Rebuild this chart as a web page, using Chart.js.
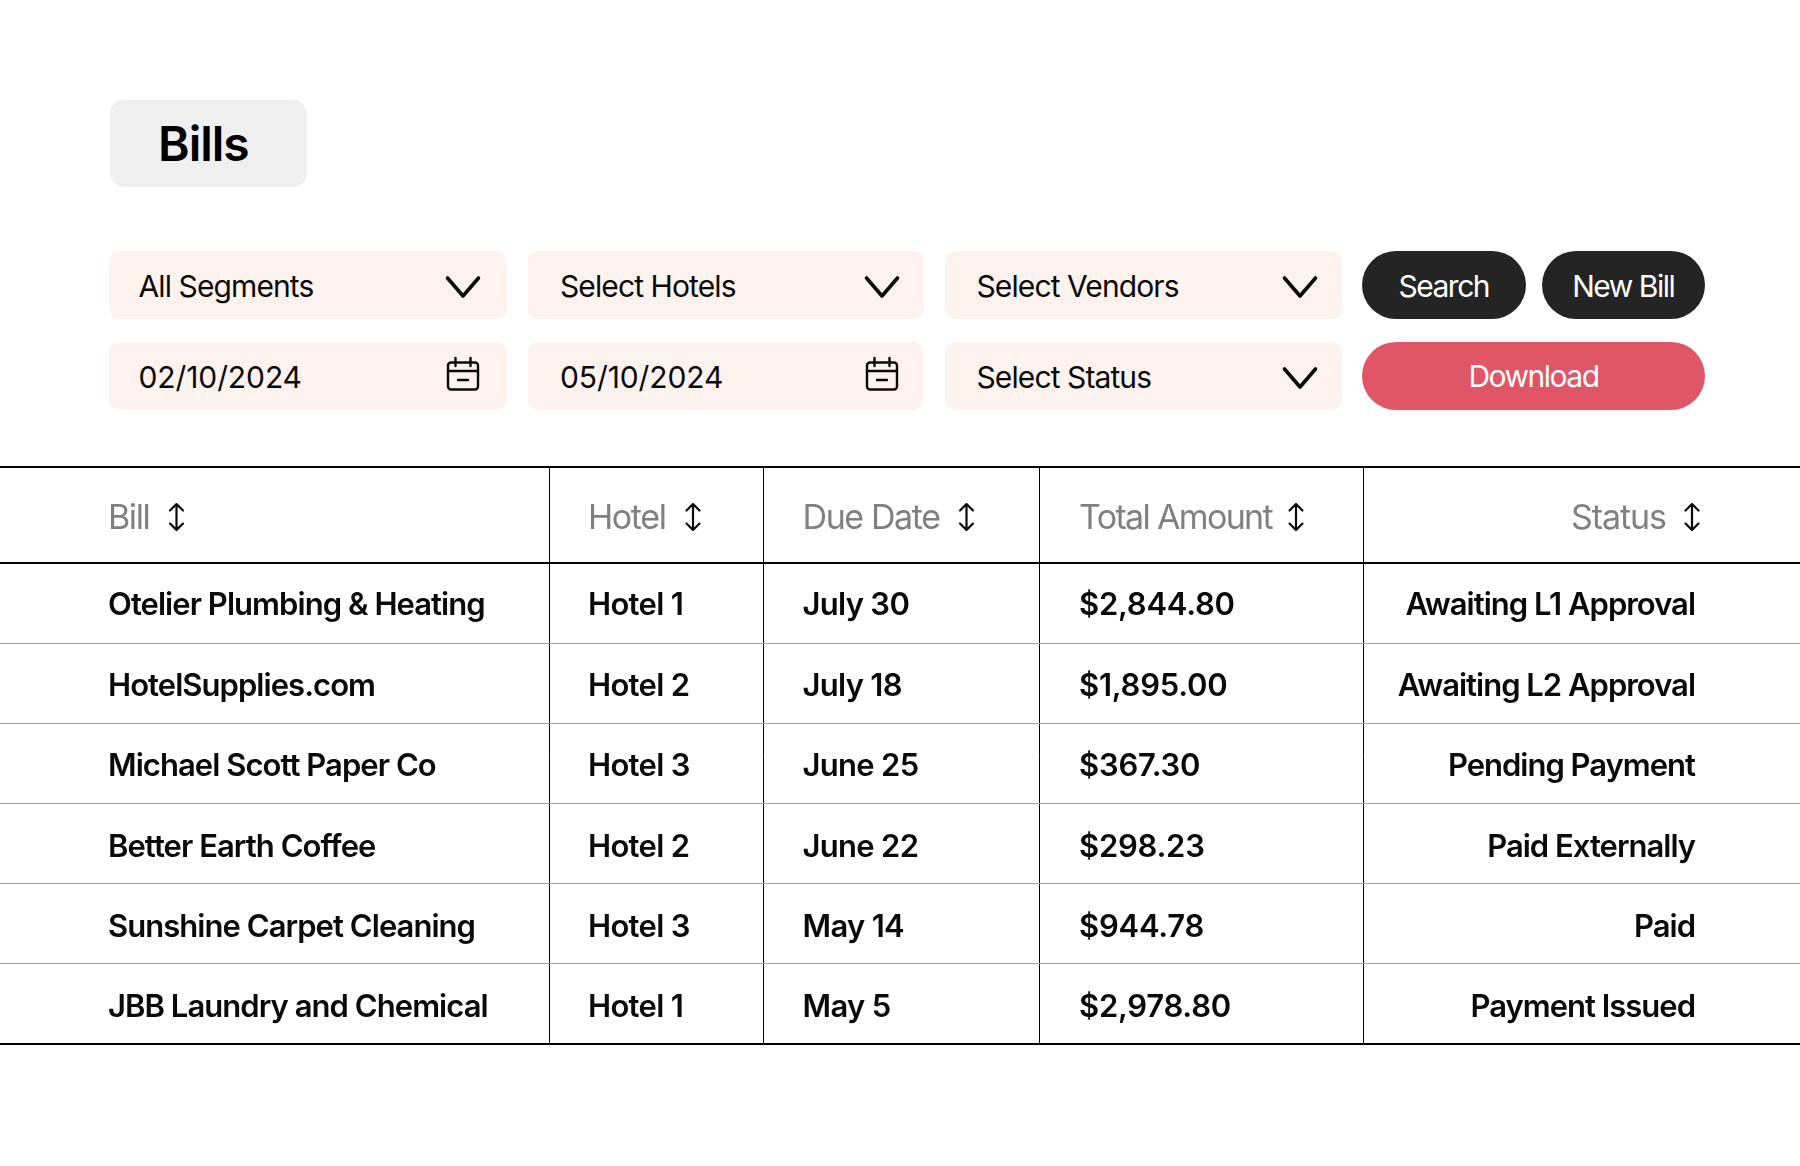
<!DOCTYPE html>
<html><head><meta charset="utf-8"><title>Bills</title>
<script src="https://cdn.jsdelivr.net/npm/chart.js@4"></script>
<style>
html,body{margin:0;padding:0;background:#fff;width:1800px;height:1166px;overflow:hidden;font-family:Inter,sans-serif}
canvas{position:absolute;left:0;top:0;display:block}
.b{position:absolute;display:flex;align-items:center;box-sizing:border-box;font-size:30px;letter-spacing:-0.9px;white-space:nowrap;color:#0a0a0a}
.f{background:#fdf2ed;border-radius:10px;height:68px;width:397.5px;padding-left:29.5px;padding-top:2px}
.p{color:#fff;justify-content:center;border-radius:34px;height:68px;background:#242424;letter-spacing:-1.5px}
svg{position:absolute;overflow:visible}
svg *{fill:none;stroke:#0a0a0a;stroke-linecap:round;stroke-linejoin:round}
</style></head><body>
<canvas id="c" width="1800" height="1166"></canvas>
<div class="b" style="left:110px;top:100px;width:197px;height:87px;background:#efefef;border-radius:14px;padding-left:48px;font-size:48px;font-weight:600;letter-spacing:-1px;color:#000">Bills</div>
<div id="ui"></div>
<script>
// ---- table content ----
const columnHeaders = ["Bill", "Hotel", "Due Date", "Total Amount", "Status"];
const bills = ["Otelier Plumbing & Heating", "HotelSupplies.com", "Michael Scott Paper Co", "Better Earth Coffee", "Sunshine Carpet Cleaning", "JBB Laundry and Chemical"];
const hotels = ["Hotel 1", "Hotel 2", "Hotel 3", "Hotel 2", "Hotel 3", "Hotel 1"];
const dueDates = ["July 30", "July 18", "June 25", "June 22", "May 14", "May 5"];
const totalAmounts = [2844.80, 1895.00, 367.30, 298.23, 944.78, 2978.80];
const statuses = ["Awaiting L1 Approval", "Awaiting L2 Approval", "Pending Payment", "Paid Externally", "Paid", "Payment Issued"];
const filters = ["All Segments", "Select Hotels", "Select Vendors", "02/10/2024", "05/10/2024", "Select Status"];
const actions = ["Search", "New Bill", "Download"];

// ---- layout (not data) ----
const columnEdges = [549, 763, 1039, 1363];
const cellX = [108, 588, 802.5, 1079, 1695];
const headerRight = 1666;
const sortX = [176.5, 693, 966.5, 1296, 1692];
const rowBorders = [-1.2, 0, 1, 2, 3, 4, 5, 6];
const cellSpacing = [-0.95, -0.7, -0.7, -0.25, -1.0];
const headerSpacing = [-1.4, -1.4, -1.4, -1.65, -1.05];
const money = v => "$" + v.toLocaleString("en-US", {minimumFractionDigits: 2, maximumFractionDigits: 2});
const cellColumns = [bills, hotels, dueDates, totalAmounts.map(money), statuses];

// ---- controls above the table ----
const ui = document.getElementById("ui");
const fx = [109, 528, 944.5], fy = [251, 342];
const icoX = [463, 882, 1300];
const chev = (cx, cy) => `<svg style="left:0;top:0" width="1" height="1"><path stroke-width="3.6" d="M${cx-15.5} ${cy-9}L${cx} ${cy+9}L${cx+15.5} ${cy-9}"/></svg>`;
const cal = (cx, cy) => `<svg style="left:0;top:0" width="1" height="1"><g stroke-width="2.4"><rect x="${cx-15}" y="${cy-10.5}" width="30" height="27" rx="3"/><path d="M${cx-15} ${cy-2}H${cx+15}M${cx-7.5} ${cy-15}V${cy-7}M${cx+7.5} ${cy-15}V${cy-7}M${cx-5} ${cy+7}H${cx+5}"/></g></svg>`;
let html = "";
filters.forEach((t, i) => {
  const c = i % 3, r = Math.floor(i / 3);
  const isDate = t.includes("/");
  html += `<div class="b f" style="left:${fx[c]}px;top:${fy[r]}px;${c==1?'padding-left:32px;width:396px;':''}${c==2?'padding-left:32px;width:397px;':''}${isDate?'letter-spacing:-0.1px;':''}">${t}</div>`;
  html += isDate ? cal(icoX[c], fy[r] + 31) : chev(icoX[c], fy[r] + 36);
});
html += `<div class="b p" style="left:1362px;top:251px;width:163.5px;padding-top:1px">${actions[0]}</div>`;
html += `<div class="b p" style="left:1541.5px;top:251px;width:163.5px;padding-top:1px">${actions[1]}</div>`;
html += `<div class="b p" style="left:1362px;top:342px;width:343px;background:#e05667">${actions[2]}</div>`;
ui.innerHTML = html;

// ---- table drawn by Chart.js ----
const cellText = {
  id: "cellText",
  afterDatasetsDraw(chart) {
    const ctx = chart.ctx, X = chart.scales.x, Y = chart.scales.y;
    ctx.save();
    ctx.textBaseline = "alphabetic";
    chart.data.datasets.forEach((ds, c) => {
      ds.data.forEach((pt, r) => {
        const header = r === 0;
        ctx.font = header ? "400 34px Inter" : "600 31px Inter";
        ctx.letterSpacing = (header ? headerSpacing[c] : cellSpacing[c]) + "px";
        ctx.fillStyle = header ? "#808080" : "#0a0a0a";
        ctx.textAlign = c === 4 ? "right" : "left";
        const px = header && c === 4 ? headerRight : X.getPixelForValue(pt.x);
        ctx.fillText(ds.texts[r], px, Y.getPixelForValue(pt.y) + (header ? 14 : 12 + 0.26 * r));
      });
    });
    // sort arrows in the header row
    ctx.strokeStyle = "#0a0a0a"; ctx.lineWidth = 2.2; ctx.lineCap = "round"; ctx.lineJoin = "round";
    const cy = Y.getPixelForValue(-0.6) + 2;
    sortX.forEach(v => {
      const x = X.getPixelForValue(v);
      ctx.beginPath();
      ctx.moveTo(x, cy - 12.5); ctx.lineTo(x, cy + 12.5);
      ctx.moveTo(x - 6.5, cy - 6.5); ctx.lineTo(x, cy - 13); ctx.lineTo(x + 6.5, cy - 6.5);
      ctx.moveTo(x - 6.5, cy + 6.5); ctx.lineTo(x, cy + 13); ctx.lineTo(x + 6.5, cy + 6.5);
      ctx.stroke();
    });
    ctx.restore();
  }
};

new Chart(document.getElementById("c"), {
  type: "scatter",
  plugins: [cellText],
  data: {
    datasets: cellColumns.map((col, c) => ({
      label: columnHeaders[c],
      texts: [columnHeaders[c], ...col],
      pointRadius: 0,
      data: [{x: cellX[c], y: -0.6}, ...col.map((_, r) => ({x: cellX[c], y: r + 0.5}))]
    }))
  },
  options: {
    responsive: false, animation: false, devicePixelRatio: 1,
    layout: {padding: {top: 467, bottom: 122, left: 0, right: 0}},
    plugins: {legend: {display: false}, tooltip: {enabled: false}, title: {display: false}},
    events: [],
    scales: {
      x: {
        type: "linear", min: 0, max: 1800,
        afterBuildTicks: s => { s.ticks = columnEdges.map(value => ({value})); },
        ticks: {display: false},
        border: {display: false},
        grid: {color: "#000", lineWidth: 1, drawTicks: false}
      },
      y: {
        type: "linear", min: -1.2, max: 6, reverse: true,
        afterBuildTicks: s => { s.ticks = rowBorders.map(value => ({value})); },
        ticks: {display: false},
        border: {display: false},
        grid: {
          drawTicks: false,
          color: c => [-1.2, 0, 6].includes(c.tick.value) ? "#000" : "#a0a0a0",
          lineWidth: c => [-1.2, 0, 6].includes(c.tick.value) ? 2 : 1
        }
      }
    }
  }
});
</script>
</body></html>
